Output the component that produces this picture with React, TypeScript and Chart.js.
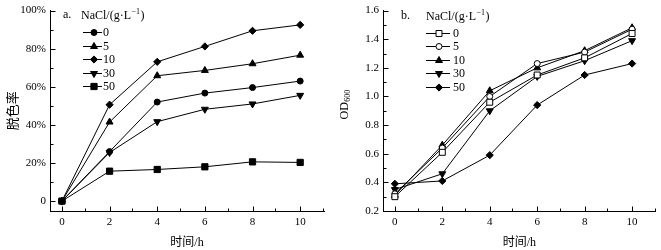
import React, { useEffect, useRef } from "react";
import { Chart, registerables } from "chart.js";
import { drawPoint } from "chart.js/helpers";

Chart.register(...registerables);

// ---------- data ----------
const hours = [0, 2, 4, 6, 8, 10];
const naclLevels = ["0", "5", "10", "30", "50"];

// a. decolorization rate (%)
const decol0 = [0, 26, 52, 56.7, 59.6, 63];
const decol5 = [0, 41.5, 65.8, 68.6, 72.1, 76.6];
const decol10 = [0, 50.6, 73.1, 81.2, 89.4, 92.5];
const decol30 = [0, 25.5, 41.7, 48.2, 51, 55.5];
const decol50 = [0, 15.7, 16.6, 18, 20.6, 20.3];

// b. OD600
const od0 = [0.3, 0.61, 0.96, 1.15, 1.27, 1.44];
const od5 = [0.32, 0.64, 1.0, 1.23, 1.31, 1.47];
const od10 = [0.31, 0.66, 1.04, 1.2, 1.32, 1.48];
const od30 = [0.35, 0.46, 0.9, 1.14, 1.25, 1.39];
const od50 = [0.39, 0.41, 0.59, 0.94, 1.15, 1.23];

const hourTicks = [0, 2, 4, 6, 8, 10];
const hourMinor = [1, 3, 5, 7, 9, 11];
const pctTicks = [0, 20, 40, 60, 80, 100];
const pctMinor = [10, 30, 50, 70, 90];
const odTicks = [0.2, 0.4, 0.6, 0.8, 1.0, 1.2, 1.4, 1.6];
const odMinor = [0.3, 0.5, 0.7, 0.9, 1.1, 1.3, 1.5];

const xTitle = "时间/h";
const yTitleA = "脱色率";

// ---------- styles ----------
const SERIF = "'Liberation Serif', 'Times New Roman', 'Noto Sans CJK SC', serif";
const BLACK = "#000";

type Marker = { style: string; radius: number; rotation: number; fill: string };
const markersA: Marker[] = [
  { style: "circle", radius: 3, rotation: 0, fill: BLACK },
  { style: "triangle", radius: 4, rotation: 0, fill: BLACK },
  { style: "rectRot", radius: 3.6, rotation: 0, fill: BLACK },
  { style: "triangle", radius: 4, rotation: 180, fill: BLACK },
  { style: "rect", radius: 4.4, rotation: 0, fill: BLACK },
];
const markersB: Marker[] = [
  { style: "rect", radius: 4.2, rotation: 0, fill: "#fff" },
  { style: "circle", radius: 3, rotation: 0, fill: "#fff" },
  { style: "triangle", radius: 4, rotation: 0, fill: BLACK },
  { style: "triangle", radius: 4, rotation: 180, fill: BLACK },
  { style: "rectRot", radius: 3.6, rotation: 0, fill: BLACK },
];

function makeDatasets(series: number[][], markers: Marker[]) {
  return series.map((vals, i) => ({
    label: naclLevels[i],
    data: vals.map((v, j) => ({ x: hours[j], y: v })),
    borderColor: BLACK,
    borderWidth: 1,
    backgroundColor: markers[i].fill,
    pointStyle: markers[i].style,
    pointRadius: markers[i].radius,
    pointRotation: markers[i].rotation,
    pointBorderColor: BLACK,
    pointBackgroundColor: markers[i].fill,
    pointBorderWidth: 1,
    tension: 0,
    fill: false,
  }));
}

function innerTicksPlugin(xMinor: number[], yMinor: number[]) {
  return {
    id: "innerTicks",
    afterDraw(chart: any) {
      const { ctx } = chart;
      const x = chart.scales.x;
      const y = chart.scales.y;
      const area = chart.chartArea;
      const axisY = Math.round(area.bottom) + 0.5;
      const axisX = Math.round(area.left) + 0.5;
      ctx.save();
      ctx.strokeStyle = BLACK;
      ctx.lineWidth = 1;
      const line = (x1: number, y1: number, x2: number, y2: number) => {
        ctx.beginPath();
        ctx.moveTo(x1, y1);
        ctx.lineTo(x2, y2);
        ctx.stroke();
      };
      x.ticks.forEach((t: any) => {
        const px = Math.round(x.getPixelForValue(t.value)) + 0.5;
        line(px, axisY, px, axisY - 5);
      });
      xMinor.forEach((v) => {
        const px = Math.round(x.getPixelForValue(v)) - 0.5;
        line(px, axisY, px, axisY - 3);
      });
      y.ticks.forEach((t: any) => {
        const py = Math.round(y.getPixelForValue(t.value)) + 0.5;
        line(axisX, py, axisX + 5, py);
      });
      yMinor.forEach((v) => {
        const py = Math.round(y.getPixelForValue(v)) + 0.5;
        line(axisX, py, axisX + 3, py);
      });
      ctx.restore();
    },
  };
}

type LegendLayout = {
  tag: string;
  tagDx: number;
  headDx: number;
  lineDx0: number;
  lineDx1: number;
  markDx: number;
  textDx: number;
  rowDy0: number;
  rowStep: number;
  headDy: number;
};

function legendPlugin(markers: Marker[], L: LegendLayout) {
  return {
    id: "innerLegend",
    afterDraw(chart: any) {
      const { ctx } = chart;
      const area = chart.chartArea;
      const left = area.left;
      const top = area.top;
      ctx.save();
      ctx.fillStyle = BLACK;
      ctx.strokeStyle = BLACK;
      ctx.textBaseline = "middle";
      ctx.textAlign = "left";
      ctx.font = `12px ${SERIF}`;
      const hy = top + L.headDy;
      ctx.fillText(L.tag, left + L.tagDx, hy - 1);
      let hx = left + L.headDx;
      const part1 = "NaCl/(g·L";
      ctx.fillText(part1, hx, hy);
      hx += ctx.measureText(part1).width + 0.5;
      ctx.font = `8px ${SERIF}`;
      const sup = "−1";
      ctx.fillText(sup, hx, hy - 4);
      hx += ctx.measureText(sup).width + 0.5;
      ctx.font = `12px ${SERIF}`;
      ctx.fillText(")", hx, hy);

      naclLevels.forEach((lab, i) => {
        const ry = Math.round(top + L.rowDy0 + i * L.rowStep) + 0.5;
        ctx.lineWidth = 1;
        ctx.strokeStyle = BLACK;
        ctx.beginPath();
        ctx.moveTo(left + L.lineDx0, ry);
        ctx.lineTo(left + L.lineDx1, ry);
        ctx.stroke();
        const m = markers[i];
        ctx.fillStyle = m.fill;
        ctx.strokeStyle = BLACK;
        drawPoint(ctx, { pointStyle: m.style as any, rotation: m.rotation, radius: m.radius, borderWidth: 1 }, left + L.markDx, ry);
        ctx.fillStyle = BLACK;
        ctx.font = `12px ${SERIF}`;
        ctx.fillText(lab, left + L.textDx, ry);
      });
      ctx.restore();
    },
  };
}

function odTitlePlugin() {
  return {
    id: "odTitle",
    afterDraw(chart: any) {
      const { ctx } = chart;
      const area = chart.chartArea;
      const cy = (area.top + area.bottom) / 2 - 6;
      ctx.save();
      ctx.translate(15, cy);
      ctx.rotate(-Math.PI / 2);
      ctx.fillStyle = BLACK;
      ctx.textBaseline = "middle";
      ctx.textAlign = "left";
      ctx.font = `12px ${SERIF}`;
      const w1 = ctx.measureText("OD").width;
      ctx.font = `8px ${SERIF}`;
      const w2 = ctx.measureText("600").width;
      const start = -(w1 + w2) / 2;
      ctx.font = `12px ${SERIF}`;
      ctx.fillText("OD", start, 0);
      ctx.font = `8px ${SERIF}`;
      ctx.fillText("600", start + w1 + 0.5, 3);
      ctx.restore();
    },
  };
}

function baseScales(opts: {
  yMin: number;
  yMax: number;
  yTicks: number[];
  yFmt: (v: number) => string;
  yWidth: number;
  yTitle?: string;
}) {
  const tickFont = { family: SERIF, size: 11 };
  return {
    x: {
      type: "linear",
      min: -0.5,
      max: 11,
      afterBuildTicks: (s: any) => {
        s.ticks = hourTicks.map((v) => ({ value: v }));
      },
      afterFit: (s: any) => {
        s.height = 39;
      },
      grid: { display: false, drawTicks: false },
      border: { display: true, color: BLACK, width: 1 },
      ticks: {
        color: BLACK,
        font: tickFont,
        padding: 5,
        maxRotation: 0,
        autoSkip: false,
        callback: (v: any) => String(v),
      },
      title: {
        display: true,
        text: xTitle,
        color: BLACK,
        font: { family: SERIF, size: 12 },
        padding: { top: 4, bottom: 0 },
      },
    },
    y: {
      type: "linear",
      min: opts.yMin,
      max: opts.yMax,
      afterBuildTicks: (s: any) => {
        s.ticks = opts.yTicks.map((v) => ({ value: v }));
      },
      afterFit: (s: any) => {
        s.width = opts.yWidth;
      },
      grid: { display: false, drawTicks: false },
      border: { display: true, color: BLACK, width: 1 },
      ticks: {
        color: BLACK,
        font: tickFont,
        padding: 4,
        autoSkip: false,
        callback: (v: any) => opts.yFmt(Number(v)),
      },
      title: opts.yTitle
        ? {
            display: true,
            text: opts.yTitle,
            color: BLACK,
            font: { family: SERIF, size: 13 },
            padding: { top: 6, bottom: 0 },
          }
        : { display: false },
    },
  };
}

function configA(): any {
  return {
    type: "line",
    data: {
      datasets: makeDatasets([decol0, decol5, decol10, decol30, decol50], markersA),
    },
    options: {
      responsive: false,
      animation: false,
      devicePixelRatio: 1,
      layout: { padding: { top: 10, right: 6, left: 0, bottom: 0 } },
      plugins: { legend: { display: false }, tooltip: { enabled: false } },
      scales: baseScales({
        yMin: -5.2,
        yMax: 100,
        yTicks: pctTicks,
        yFmt: (v) => (v === 0 ? "0" : `${v}%`),
        yWidth: 50,
        yTitle: yTitleA,
      }),
    },
    plugins: [
      innerTicksPlugin(hourMinor, pctMinor),
      legendPlugin(markersA, {
        tag: "a.",
        tagDx: 13,
        headDx: 31,
        lineDx0: 33,
        lineDx1: 52,
        markDx: 44,
        textDx: 53,
        rowDy0: 21.7,
        rowStep: 13.4,
        headDy: 5,
      }),
    ],
  };
}

function configB(): any {
  return {
    type: "line",
    data: {
      datasets: makeDatasets([od0, od5, od10, od30, od50], markersB),
    },
    options: {
      responsive: false,
      animation: false,
      devicePixelRatio: 1,
      layout: { padding: { top: 10, right: 3, left: 0, bottom: 0 } },
      plugins: { legend: { display: false }, tooltip: { enabled: false } },
      scales: baseScales({
        yMin: 0.2,
        yMax: 1.6,
        yTicks: odTicks,
        yFmt: (v) => v.toFixed(1),
        yWidth: 53,
      }),
    },
    plugins: [
      innerTicksPlugin(hourMinor, odMinor),
      odTitlePlugin(),
      legendPlugin(markersB, {
        tag: "b.",
        tagDx: 18,
        headDx: 43,
        lineDx0: 43,
        lineDx1: 67,
        markDx: 56,
        textDx: 70,
        rowDy0: 22.3,
        rowStep: 13.4,
        headDy: 6,
      }),
    ],
  };
}

function ChartCanvas({ make, left, width, height }: { make: () => any; left: number; width: number; height: number }) {
  const ref = useRef<HTMLCanvasElement>(null);
  useEffect(() => {
    const chart = new Chart(ref.current as HTMLCanvasElement, make());
    return () => chart.destroy();
  }, []);
  return (
    <canvas
      ref={ref}
      width={width}
      height={height}
      style={{ position: "absolute", left, top: 0, width, height, display: "block" }}
    />
  );
}

export default function App() {
  return (
    <div style={{ position: "fixed", left: 0, top: 0, width: 661, height: 250, background: "#fff", overflow: "hidden" }}>
      <ChartCanvas make={configA} left={0} width={330} height={250} />
      <ChartCanvas make={configB} left={330} width={331} height={250} />
    </div>
  );
}
